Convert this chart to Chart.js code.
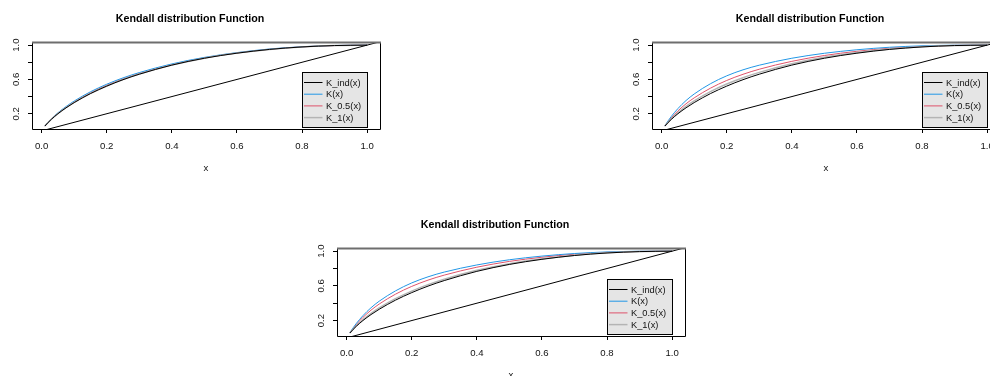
<!DOCTYPE html>
<html>
<head>
<meta charset="utf-8">
<title>Kendall distribution Function</title>
<script src="https://cdn.jsdelivr.net/npm/chart.js@4.4.0/dist/chart.umd.min.js"></script>
<style>
  html, body { margin: 0; padding: 0; background: #fff; }
  body { width: 990px; height: 376px; overflow: hidden; position: relative; }
  .panel { position: absolute; }
</style>
</head>
<body>
<div class="panel" style="left:0px;top:0px;"><canvas id="kendall1" width="412" height="185"></canvas></div>
<div class="panel" style="left:620px;top:0px;"><canvas id="kendall2" width="412" height="185"></canvas></div>
<div class="panel" style="left:305px;top:206px;"><canvas id="kendall3" width="412" height="186"></canvas></div>
<script>
// grid of t values the curves were read at
var tVals = [0.01, 0.02, 0.03, 0.05, 0.075, 0.1, 0.15, 0.2, 0.25, 0.3, 0.4, 0.5, 0.6, 0.7, 0.8, 0.9, 1.0];

// K_ind(x), same in all panels
var kInd = [0.056, 0.098, 0.135, 0.200, 0.269, 0.330, 0.435, 0.522, 0.597, 0.661, 0.767, 0.847, 0.906, 0.950, 0.979, 0.995, 1.0];

// panel 1
var kEst1  = [0.057, 0.102, 0.141, 0.211, 0.284, 0.348, 0.456, 0.544, 0.618, 0.680, 0.781, 0.857, 0.913, 0.955, 0.981, 0.996, 1.0];
var kHalf1 = [0.056, 0.100, 0.138, 0.205, 0.276, 0.338, 0.444, 0.532, 0.606, 0.669, 0.773, 0.852, 0.909, 0.952, 0.980, 0.995, 1.0];
var kOne1  = [0.056, 0.098, 0.136, 0.201, 0.271, 0.332, 0.437, 0.524, 0.599, 0.663, 0.768, 0.848, 0.907, 0.950, 0.979, 0.995, 1.0];

// panel 2
var kEst2  = [0.059, 0.118, 0.170, 0.260, 0.354, 0.430, 0.550, 0.642, 0.712, 0.766, 0.847, 0.905, 0.946, 0.975, 0.992, 0.999, 1.0];
var kHalf2 = [0.058, 0.109, 0.154, 0.233, 0.316, 0.385, 0.498, 0.588, 0.660, 0.719, 0.811, 0.879, 0.928, 0.964, 0.986, 0.997, 1.0];
var kOne2  = [0.057, 0.102, 0.142, 0.212, 0.286, 0.350, 0.458, 0.546, 0.620, 0.682, 0.783, 0.859, 0.914, 0.955, 0.982, 0.996, 1.0];

// panel 3
var kEst3  = [0.059, 0.117, 0.168, 0.256, 0.348, 0.423, 0.542, 0.634, 0.704, 0.759, 0.841, 0.901, 0.943, 0.973, 0.991, 0.999, 1.0];
var kHalf3 = [0.058, 0.110, 0.156, 0.236, 0.320, 0.390, 0.504, 0.594, 0.666, 0.724, 0.815, 0.882, 0.930, 0.965, 0.987, 0.997, 1.0];
var kOne3  = [0.056, 0.101, 0.140, 0.209, 0.282, 0.345, 0.452, 0.540, 0.614, 0.677, 0.779, 0.856, 0.912, 0.954, 0.981, 0.996, 1.0];

// reference line y = x
var diagVals = [-0.05, 1.06];

var xTicks = [0.0, 0.2, 0.4, 0.6, 0.8, 1.0];
var yTicks = [0.2, 0.4, 0.6, 0.8, 1.0];
var yLabelTicks = [0.2, 0.6, 1.0];
var legendLabels = ['K_ind(x)', 'K(x)', 'K_0.5(x)', 'K_1(x)'];

var FONT = '"Liberation Sans", Arial, Helvetica, sans-serif';
Chart.defaults.font.family = FONT;
Chart.defaults.color = '#000';

function toPoints(xs, ys) {
    return xs.map(function (x, i) { return {x: x, y: ys[i]}; });
}

// box, rotated y labels and the legend, R style
var rFrame = {
    id: 'rFrame',
    afterDraw: function (chart) {
        var ctx = chart.ctx;
        var a = chart.chartArea;
        var ys = chart.scales.y;
        var L = Math.round(a.left) + 0.5, T = Math.round(a.top) + 0.5;
        var R = Math.round(a.right) + 0.5, B = Math.round(a.bottom) + 0.5;
        ctx.save();

        ctx.strokeStyle = '#000';
        ctx.lineWidth = 1;
        ctx.beginPath();
        ctx.moveTo(L, T); ctx.lineTo(L, B); ctx.lineTo(R, B); ctx.lineTo(R, T);
        ctx.stroke();
        // top edge comes out grey and a bit heavier in the original
        ctx.strokeStyle = '#6e6e6e';
        ctx.lineWidth = 2;
        ctx.beginPath();
        ctx.moveTo(L - 0.5, T); ctx.lineTo(R + 0.5, T);
        ctx.stroke();

        ctx.fillStyle = '#111';
        ctx.font = '9.6px ' + FONT;
        ctx.textAlign = 'center';
        ctx.textBaseline = 'middle';
        yLabelTicks.forEach(function (v) {
            ctx.save();
            ctx.translate(a.left - 16, ys.getPixelForValue(v));
            ctx.rotate(-Math.PI / 2);
            ctx.fillText(v.toFixed(1), 0, 0);
            ctx.restore();
        });

        // legend box
        var w = 65, h = 55;
        var lx = Math.round(a.right - 13.3) - w + 0.5;
        var ly = Math.round(a.bottom - 2.3) - h + 0.5;
        ctx.fillStyle = '#e5e5e5';
        ctx.fillRect(lx, ly, w, h);
        ctx.strokeStyle = '#000';
        ctx.lineWidth = 1;
        ctx.strokeRect(lx, ly, w, h);

        var sets = chart.data.datasets.filter(function (d) { return d.inLegend; });
        ctx.font = '9.3px ' + FONT;
        ctx.textAlign = 'left';
        legendLabels.forEach(function (lab, i) {
            var d = sets.filter(function (s) { return s.label === lab; })[0];
            var ry = ly + 10 + i * 11.7;
            ctx.strokeStyle = d.borderColor;
            ctx.lineWidth = d.borderWidth;
            ctx.beginPath();
            ctx.moveTo(lx + 1.5, ry);
            ctx.lineTo(lx + 20, ry);
            ctx.stroke();
            ctx.fillStyle = '#111';
            ctx.fillText(lab, lx + 23.5, ry + 0.5);
        });
        ctx.restore();
    }
};

function curve(label, ys, color, width) {
    return {
        label: label,
        inLegend: true,
        data: toPoints(tVals, ys),
        borderColor: color,
        borderWidth: width,
        showLine: true,
        pointRadius: 0,
        cubicInterpolationMode: 'monotone'
    };
}

function makeChart(id, est, half, one) {
    return new Chart(document.getElementById(id), {
        type: 'scatter',
        data: {
            datasets: [
                curve('K_ind(x)', kInd, '#000000', 1),
                {
                    label: 'diag',
                    data: toPoints(diagVals, diagVals),
                    borderColor: '#000000',
                    borderWidth: 1,
                    showLine: true,
                    pointRadius: 0
                },
                curve('K_1(x)', one, '#b4b4b4', 1.5),
                curve('K(x)', est, '#2297E6', 1),
                curve('K_0.5(x)', half, '#DF536B', 1)
            ]
        },
        options: {
            responsive: false,
            animation: false,
            events: [],
            layout: { padding: { left: 0, right: 32, top: 0, bottom: 0 } },
            plugins: {
                legend: { display: false },
                tooltip: { enabled: false },
                title: {
                    display: true,
                    text: 'Kendall distribution Function',
                    color: '#000',
                    font: { size: 10.7, weight: 'bold' },
                    padding: { top: 13, bottom: 16.2 }
                }
            },
            scales: {
                x: {
                    type: 'linear',
                    min: -0.0296,
                    max: 1.0396,
                    afterBuildTicks: function (s) { s.ticks = xTicks.map(function (v) { return {value: v}; }); },
                    afterFit: function (s) { s.height = 56; },
                    border: { display: false },
                    grid: { drawOnChartArea: false, drawTicks: true, tickLength: 4, color: '#000' },
                    ticks: {
                        autoSkip: false,
                        maxRotation: 0,
                        padding: 8,
                        color: '#111',
                        font: { size: 9.6 },
                        callback: function (v) { return Number(v).toFixed(1); }
                    },
                    title: { display: true, text: 'x', color: '#111', font: { size: 9.6 }, padding: { top: 0, bottom: 11 } }
                },
                y: {
                    type: 'linear',
                    min: 0.022,
                    max: 1.036,
                    afterBuildTicks: function (s) { s.ticks = yTicks.map(function (v) { return {value: v}; }); },
                    afterFit: function (s) { s.width = 32; },
                    border: { display: false },
                    grid: { drawOnChartArea: false, drawTicks: true, tickLength: 4, color: '#000' },
                    ticks: { display: false, autoSkip: false }
                }
            }
        },
        plugins: [rFrame]
    });
}

var chart1 = makeChart('kendall1', kEst1, kHalf1, kOne1);
var chart2 = makeChart('kendall2', kEst2, kHalf2, kOne2);
var chart3 = makeChart('kendall3', kEst3, kHalf3, kOne3);
</script>
</body>
</html>
